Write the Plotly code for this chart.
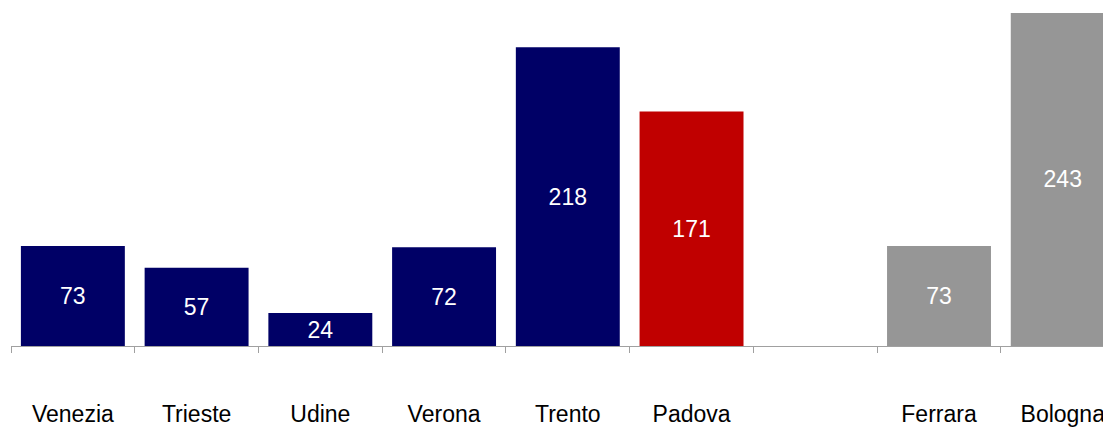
import plotly.graph_objects as go

categories = ["Venezia", "Trieste", "Udine", "Verona", "Trento", "Padova", " ", "Ferrara", "Bologna"]
values = [73, 57, 24, 72, 218, 171, None, 73, 243]
bar_colors = ["#000066", "#000066", "#000066", "#000066", "#000066", "#C00000", "#000066", "#969696", "#969696"]
labels = [str(v) if v is not None else "" for v in values]

fig = go.Figure(go.Bar(
    x=categories,
    y=values,
    marker=dict(color=bar_colors, line=dict(width=0)),
    text=labels,
    textposition="inside",
    insidetextanchor="middle",
    textfont=dict(color="white", size=23, family="Liberation Sans, Arial, sans-serif"),
    textangle=0,
    cliponaxis=False,
))

# page has an 8px body margin, so the figure is sized to fit the window
fig.update_layout(
    width=1103,
    height=419,
    margin=dict(l=3, r=0, t=0, b=81),
    paper_bgcolor="white",
    plot_bgcolor="white",
    bargap=0.16,
    showlegend=False,
    font=dict(family="Liberation Sans, Arial, sans-serif", size=23, color="black"),
)

fig.update_xaxes(
    type="category",
    range=[-0.5, 8.39],
    showline=True,
    linecolor="#A0A0A0",
    linewidth=1,
    ticks="outside",
    tickson="boundaries",
    ticklen=6,
    tickcolor="#A0A0A0",
    tickwidth=1,
    showgrid=False,
    tickfont=dict(size=23, color="black"),
    ticklabelstandoff=47,
)
fig.update_yaxes(range=[0, 246.6], visible=False, showgrid=False, zeroline=False)

fig.write_html("out.html")
